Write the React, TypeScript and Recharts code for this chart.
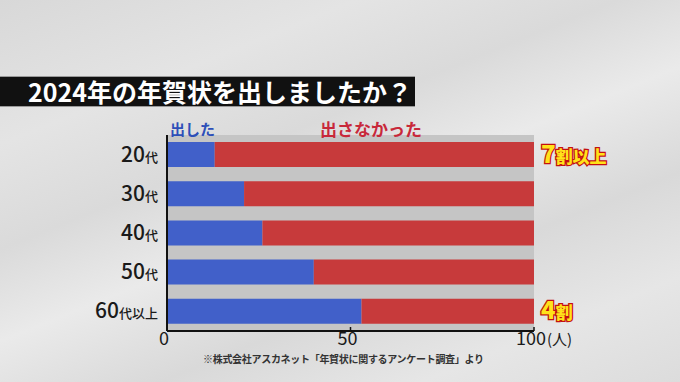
import { BarChart, Bar, XAxis, YAxis, CartesianGrid, LabelList } from 'recharts'

const ages = ['20代', '30代', '40代', '50代', '60代以上']
const sent = [13, 21, 26, 40, 53]
const notSent = [87, 79, 74, 60, 47]
const notes = ['7割以上', '', '', '', '4割']
const seriesNames = ['出した', '出さなかった']
const xTicks = [0, 50, 100]

const data = ages.map((age, i) => ({ age, sent: sent[i], notSent: notSent[i], note: notes[i] }))

const FONT = '"Noto Sans CJK JP", "Noto Sans", sans-serif'

function AgeTick({ x, y, payload }: any) {
  const label: string = payload.value
  const num = label.match(/^\d+/)?.[0] ?? ''
  const rest = label.slice(num.length)
  return (
    <text x={x} y={y} dy={7} textAnchor="end" fill="#1a1a1a" fontFamily={FONT} fontWeight={500}>
      <tspan fontSize={21}>{num}</tspan>
      <tspan fontSize={13}>{rest}</tspan>
    </text>
  )
}

function CountTick({ x, y, payload }: any) {
  const v = payload.value
  return (
    <g>
      <text x={x - 3} y={y} dy={14} textAnchor="middle" fontSize={18} fill="#1a1a1a" fontFamily={FONT}>
        {v}
      </text>
      {v === 100 && (
        <text x={x + 13} y={y} dy={14} textAnchor="start" fontSize={15} fill="#1a1a1a" fontFamily={FONT}>
          (人)
        </text>
      )}
    </g>
  )
}

function NoteLabel({ x, y, width, height, value }: any) {
  if (!value) return null
  const head = value.slice(0, 1)
  const tail = value.slice(1)
  return (
    <text
      x={x + width + 7}
      y={y + height / 2}
      dy={8}
      fontFamily={FONT}
      fontWeight={900}
      fill="#ffe21a"
      stroke="#c41010"
      strokeWidth={2.5}
      paintOrder="stroke"
    >
      <tspan fontSize={24}>{head}</tspan>
      <tspan fontSize={17}>{tail}</tspan>
    </text>
  )
}

export default function App() {
  return (
    <div
      style={{
        position: 'absolute',
        left: 0,
        top: 0,
        width: 680,
        height: 382,
        overflow: 'hidden',
        fontFamily: FONT,
        background:
          'linear-gradient(158deg, #d8d8d8 0%, #e4e4e4 22%, #dadada 38%, #eaeaea 52%, #d9d9d9 68%, #e6e6e6 84%, #dcdcdc 100%)',
      }}
    >
      <div
        style={{
          position: 'absolute',
          left: 0,
          top: 76,
          width: 415,
          height: 29,
          background: '#111',
          borderTop: '1px solid #999',
          borderBottom: '1px solid #999',
        }}
      />
      <div
        style={{
          position: 'absolute',
          left: 28,
          top: 74,
          color: '#fff',
          fontSize: 25,
          fontWeight: 700,
          lineHeight: '34px',
          whiteSpace: 'nowrap',
        }}
      >
        2024年の年賀状を出しましたか？
      </div>
      <div style={{ position: 'absolute', top: 0, left: 0 }}>
        <BarChart
          width={680}
          height={382}
          layout="vertical"
          data={data}
          margin={{ top: 135, right: 146, bottom: 21, left: 0 }}
          barSize={25}
        >
          <CartesianGrid fill="#c5c5c5" horizontal={false} vertical={false} />
          <XAxis
            type="number"
            domain={[0, 100]}
            ticks={xTicks}
            height={30}
            axisLine={{ stroke: '#111', strokeWidth: 2 }}
            tickLine={{ stroke: '#111', strokeWidth: 1.5 }}
            tickSize={-4}
            tickMargin={4}
            tick={<CountTick />}
          />
          <YAxis
            type="category"
            dataKey="age"
            width={167}
            axisLine={{ stroke: '#111', strokeWidth: 2 }}
            tickLine={false}
            tickSize={0}
            tickMargin={9}
            tick={<AgeTick />}
          />
          <Bar dataKey="sent" name={seriesNames[0]} stackId="a" fill="#4160c9" isAnimationActive={false} />
          <Bar dataKey="notSent" name={seriesNames[1]} stackId="a" fill="#c73a3b" isAnimationActive={false}>
            <LabelList dataKey="note" content={<NoteLabel />} />
          </Bar>
        </BarChart>
      </div>
      <div style={{ position: 'absolute', left: 170, top: 119, color: '#2d4fb8', fontSize: 15, fontWeight: 700, lineHeight: '20px' }}>
        {seriesNames[0]}
      </div>
      <div style={{ position: 'absolute', left: 320, top: 118, color: '#c8283a', fontSize: 17, fontWeight: 700, lineHeight: '22px' }}>
        {seriesNames[1]}
      </div>
      <div
        style={{
          position: 'absolute',
          left: 203,
          top: 351,
          color: '#333',
          fontSize: 10,
          fontWeight: 700,
          letterSpacing: -0.3,
          whiteSpace: 'nowrap',
        }}
      >
        ※株式会社アスカネット「年賀状に関するアンケート調査」より
      </div>
    </div>
  )
}
